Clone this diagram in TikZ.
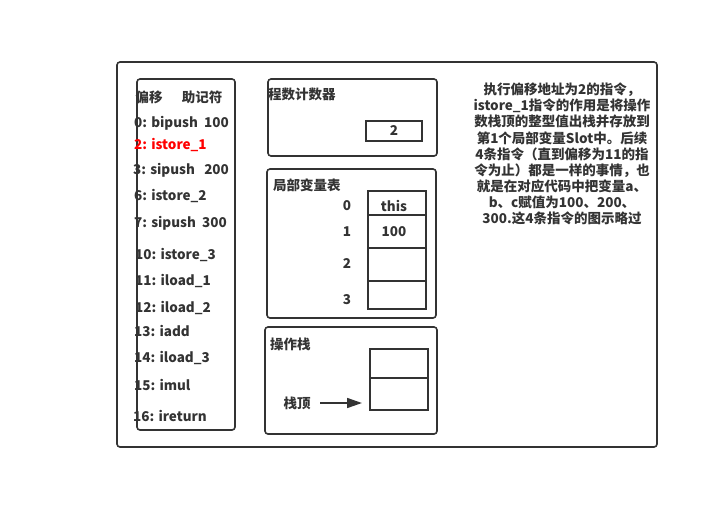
\documentclass[tikz,border=0pt]{standalone}
\usepackage{fontspec}
\setmainfont{Noto Sans CJK SC}
\usetikzlibrary{arrows.meta}
\definecolor{ink}{HTML}{333333}
\tikzset{
  panel/.style={draw=ink, line width=1.6pt, rounded corners=3pt},
  cell/.style={draw=ink, line width=1.6pt},
  txt/.style={inner sep=0pt, text=ink, font=\fontsize{13.5}{16.1}\selectfont\bfseries},
  ins/.style={txt, anchor=west},
}
\begin{document}
\begin{tikzpicture}[x=1pt,y=-1pt]
\useasboundingbox (0,0) rectangle (719,509);
% outer frame
\draw[panel] (117,62) rectangle (657,447);
% left instruction panel
\draw[panel] (137,79) rectangle (235,430);
\node[txt] (hOff) at (149,97) {偏移};
\node[txt] (hMn) at (202,97) {助记符};
\node[ins] (i0) at (134,123) {0: bipush\ \ 100};
\node[ins, text=red] (i2) at (134,145) {2: istore\_1};
\node[ins] (i3) at (133,170) {3: sipush\ \ \ 200};
\node[ins] (i6) at (134,196) {6: istore\_2};
\node[ins] (i7) at (134,223) {7: sipush\ \ 300};
\node[ins] (i10) at (135,255) {10: istore\_3};
\node[ins] (i11) at (135,281) {11: iload\_1};
\node[ins] (i12) at (135,308) {12: iload\_2};
\node[ins] (i13) at (134,331) {13: iadd};
\node[ins] (i14) at (134,358) {14: iload\_3};
\node[ins] (i15) at (134,385) {15: imul};
\node[ins] (i16) at (133,416) {16: ireturn};
% program counter
\draw[panel] (268,79) rectangle (437,156);
\node[ins] (pcT) at (268,94) {程数计数器};
\draw[cell] (366,121) rectangle (422,141);
\node[txt] (pcV) at (394,131) {2};
% local variables
\draw[panel] (267,169) rectangle (436,318);
\node[ins] (lvT) at (273,185) {局部变量表};
\draw[cell] (368,191) rectangle (426,309);
\draw[cell] (368,215) -- (426,215);
\draw[cell] (368,248) -- (426,248);
\draw[cell] (368,281) -- (426,281);
\node[txt] (l0) at (347,206) {0};
\node[txt] (l1) at (347,232) {1};
\node[txt] (l2) at (347,263) {2};
\node[txt] (l3) at (347,300) {3};
\node[txt] (v0) at (394,206) {this};
\node[txt] (v1) at (394,232) {100};
% operand stack
\draw[panel] (265,327) rectangle (437,434);
\node[ins] (osT) at (270,344) {操作栈};
\draw[cell] (370,349) rectangle (428,410);
\draw[cell] (370,378) -- (428,378);
\node[txt] (top) at (297,403) {栈顶};
\coordinate (aS) at (320,403);
\coordinate (aE) at (362,403);
\draw[ink, line width=1.6pt, -{Triangle[length=15pt,width=10pt]}] (aS) -- (aE);
% description
\node[txt, align=center] (desc) at (562,154) {执行偏移地址为2的指令，\\istore\_1指令的作用是将操作\\数栈顶的整型值出栈并存放到\\第1个局部变量Slot中。后续\\4条指令（直到偏移为11的指\\令为止）都是一样的事情，也\\就是在对应代码中把变量a、\\b、c赋值为100、200、\\300.这4条指令的图示略过};
\end{tikzpicture}
\end{document}
